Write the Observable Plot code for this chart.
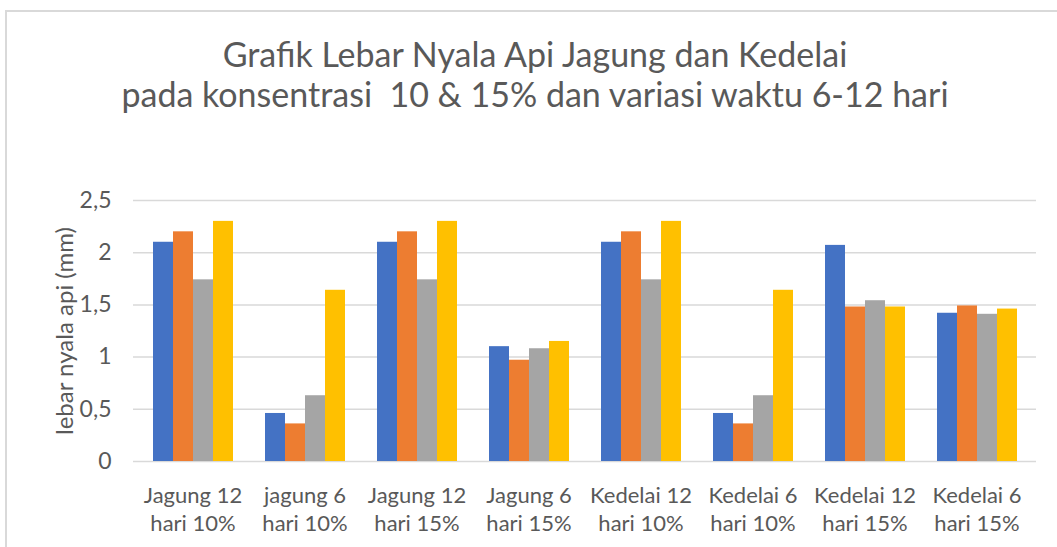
<!DOCTYPE html>
<html>
<head>
<meta charset="utf-8">
<script src="https://cdn.jsdelivr.net/npm/d3@7"></script>
<script src="https://cdn.jsdelivr.net/npm/@observablehq/plot@0.6"></script>
<style>
  html, body { margin: 0; padding: 0; background: #fff; overflow: hidden; }
  #wrap { position: relative; width: 1057px; height: 547px; font-family: Lato, "Open Sans", sans-serif; }
  #frame { position: absolute; left: 5px; top: 10px; width: 1100px; height: 600px; border-left: 2px solid #d9d9d9; border-top: 2px solid #d9d9d9; box-sizing: border-box; }
  #title { position: absolute; left: 0; top: 34px; width: 1070px; text-align: center; font-size: 34px; line-height: 40px; color: #595959; white-space: pre; }
  .layer { position: absolute; left: 0; top: 0; }
</style>
</head>
<body>
<div id="wrap">
  <div id="frame"></div>
  <div id="title"></div>
  <div id="grid" class="layer"></div>
  <div id="bars" class="layer"></div>
</div>
<script>
const titleLines = ["Grafik Lebar Nyala Api Jagung dan Kedelai", "pada konsentrasi  10 & 15% dan variasi waktu 6-12 hari"];
const yLabel = "lebar nyala api (mm)";
const categories = ["Jagung 12 hari 10%", "jagung 6 hari 10%", "Jagung 12 hari 15%", "Jagung 6 hari 15%", "Kedelai 12 hari 10%", "Kedelai 6 hari 10%", "Kedelai 12 hari 15%", "Kedelai 6 hari 15%"];
const seriesNames = ["S1", "S2", "S3", "S4"];
const seriesColors = ["#4472C4", "#ED7D31", "#A5A5A5", "#FFC000"];
const s1 = [2.10, 0.46, 2.10, 1.10, 2.10, 0.46, 2.07, 1.42];
const s2 = [2.20, 0.36, 2.20, 0.97, 2.20, 0.36, 1.48, 1.49];
const s3 = [1.74, 0.63, 1.74, 1.08, 1.74, 0.63, 1.54, 1.41];
const s4 = [2.30, 1.64, 2.30, 1.15, 2.30, 1.64, 1.48, 1.46];
const yTicks = [0, 0.5, 1, 1.5, 2, 2.5];

document.getElementById("title").textContent = titleLines.join("\n");

const seriesValues = [s1, s2, s3, s4];
const data = [];
categories.forEach((c, i) => {
  seriesNames.forEach((s, j) => data.push({cat: c, series: s, value: seriesValues[j][i]}));
});

const common = {
  width: 1057, height: 547,
  marginLeft: 133, marginRight: 21, marginTop: 200, marginBottom: 86,
  style: {fontFamily: "Lato, 'Open Sans', sans-serif", color: "#595959", background: "transparent", overflow: "visible"}
};
const fmt = d => String(d).replace(".", ",");

const gridPlot = Plot.plot({
  ...common,
  y: {domain: [0, 2.5]},
  marks: [
    Plot.gridY(yTicks, {stroke: "#d9d9d9", strokeOpacity: 1, strokeWidth: 1.5}),
    Plot.axisY(yTicks, {tickSize: 0, tickPadding: 22, tickFormat: fmt, fontSize: 23, label: null}),
    Plot.text([yLabel], {frameAnchor: "left", rotate: -90, textAnchor: "middle", lineAnchor: "middle",
      dx: -68.5, fontSize: 24, fill: "#595959"})
  ]
});
document.getElementById("grid").appendChild(gridPlot);

const barPlot = Plot.plot({
  ...common,
  fx: {domain: categories, paddingInner: 0.275, paddingOuter: 0.1375, label: null, axis: null},
  x: {domain: seriesNames, padding: 0, axis: null},
  y: {domain: [0, 2.5], axis: null},
  color: {domain: seriesNames, range: seriesColors},
  marks: [
    Plot.barY(data, {fx: "cat", x: "series", y: "value", fill: "series"}),
    Plot.axisFx({anchor: "bottom", tickSize: 0, tickPadding: 22, fontSize: 22, lineHeight: 1.27, label: null,
      tickFormat: d => d.replace(" hari", "\nhari")})
  ]
});
document.getElementById("bars").appendChild(barPlot);
</script>
</body>
</html>
